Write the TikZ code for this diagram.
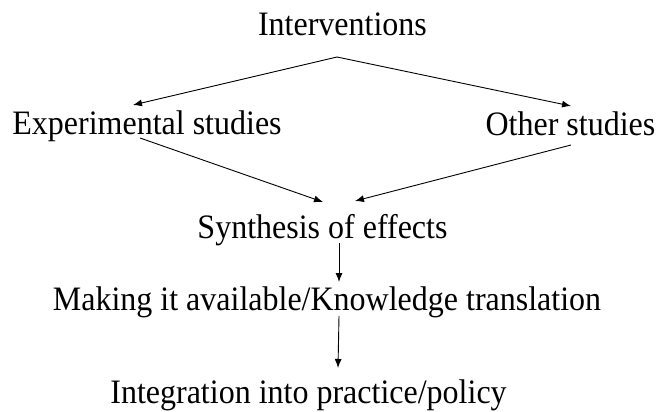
\documentclass[tikz,border=0pt]{standalone}
\usepackage{fontspec}
\setmainfont{Liberation Serif}
\usetikzlibrary{arrows.meta}
\newcommand{\tallify}[1]{\scalebox{1}[1.07]{#1}}
\begin{document}
\begin{tikzpicture}[x=1pt,y=-1pt,
  lbl/.style={inner sep=0pt,anchor=base,font=\fontsize{32}{36}\selectfont},
  arr/.style={line width=0.9pt,-{Latex[length=9pt,width=7pt]}}]
\useasboundingbox (0,0) rectangle (656,412);
\node[lbl] (int) at (342.5,36) {\tallify{Interventions}};
\node[lbl] (exp) at (147,134) {\tallify{Experimental studies}};
\node[lbl] (oth) at (570.5,135) {\tallify{Other studies}};
\node[lbl] (syn) at (322.5,238) {\tallify{Synthesis of effects}};
\node[lbl] (mak) at (327,310) {\tallify{Making it available/Knowledge translation}};
\node[lbl] (itg) at (308.5,403) {\tallify{Integration into practice/policy}};
\coordinate (apex) at (337,57);
\coordinate (expin) at (133,105);
\coordinate (othin) at (571,106);
\coordinate (expout) at (140,138);
\coordinate (othout) at (571,145);
\coordinate (synL) at (323,202);
\coordinate (synR) at (355,201);
\coordinate (synout) at (339,243);
\coordinate (makin) at (339,282);
\coordinate (makout) at (339,316);
\coordinate (itgin) at (338,368);
\draw[arr] (apex) -- (expin);
\draw[arr] (apex) -- (othin);
\draw[arr] (expout) -- (synL);
\draw[arr] (othout) -- (synR);
\draw[arr] (synout) -- (makin);
\draw[arr] (makout) -- (itgin);
\end{tikzpicture}
\end{document}
